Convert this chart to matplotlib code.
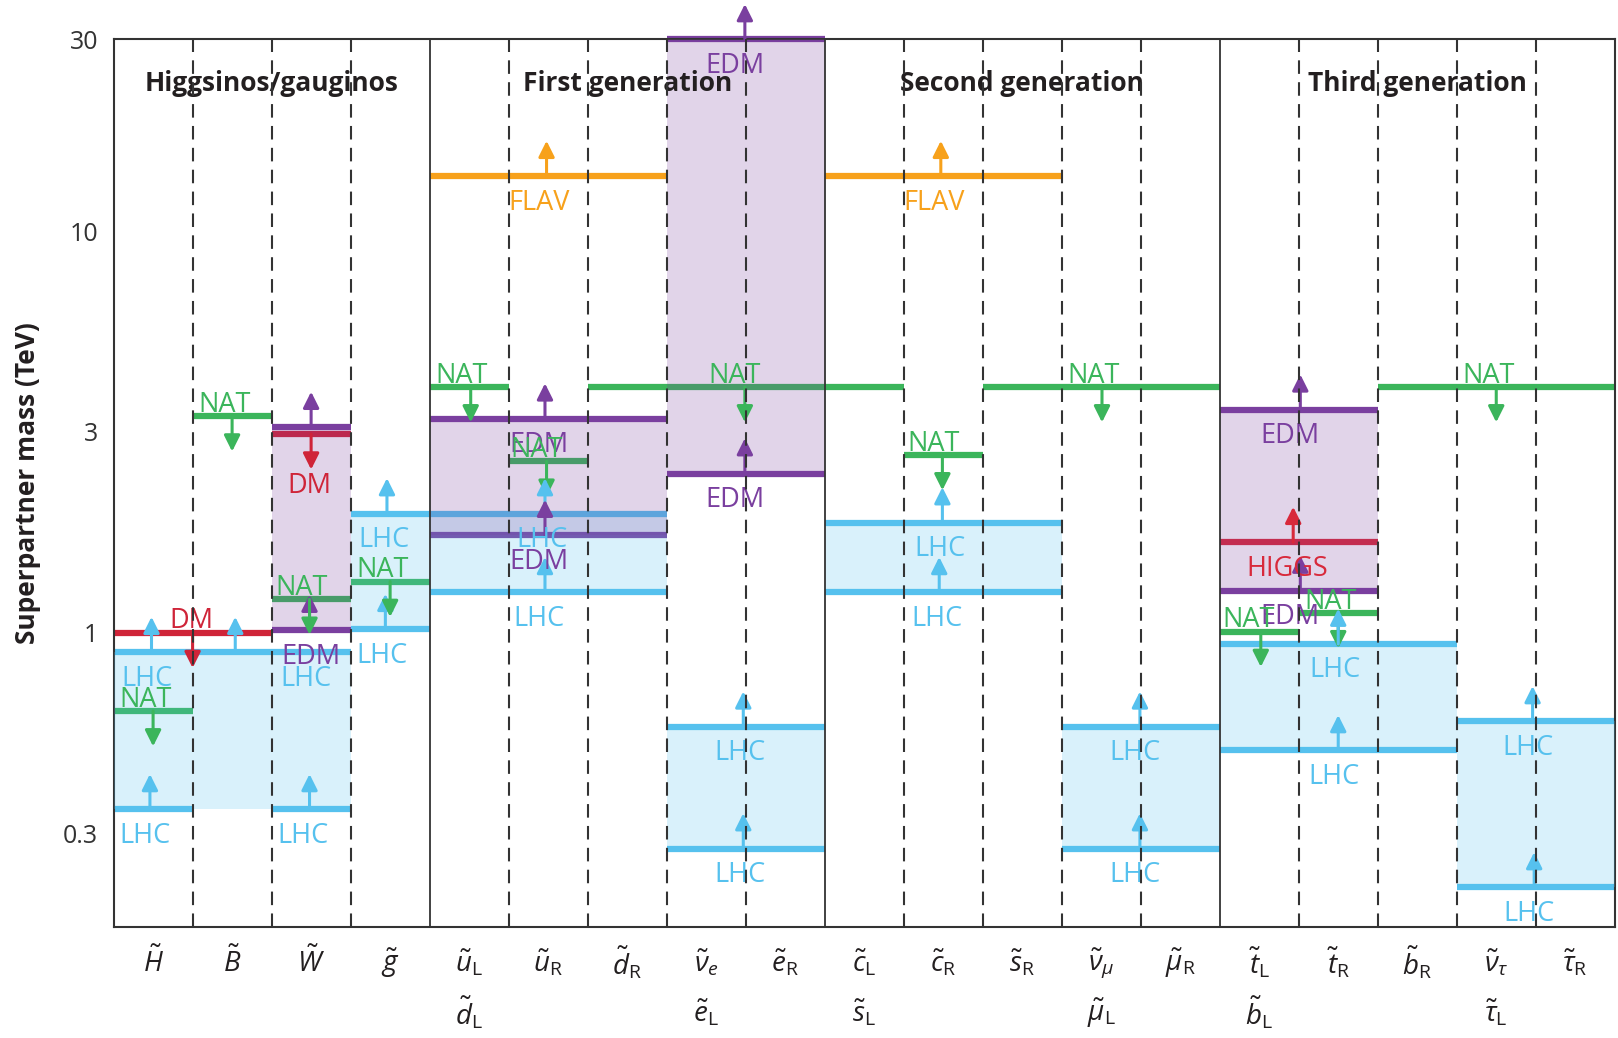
import numpy as np
import matplotlib.pyplot as plt
from matplotlib.ticker import NullLocator
from matplotlib.transforms import blended_transform_factory

plt.rcParams['font.family'] = ['Open Sans', 'DejaVu Sans']
plt.rcParams['mathtext.fontset'] = 'custom'
plt.rcParams['mathtext.rm'] = 'Open Sans'
plt.rcParams['mathtext.it'] = 'Open Sans:italic'
plt.rcParams['mathtext.bf'] = 'Open Sans:bold'

# ---- data -------------------------------------------------------------
sparticles = [r'$\tilde{H}$', r'$\tilde{B}$', r'$\tilde{W}$', r'$\tilde{g}$',
              r'$\tilde{u}_\mathrm{L}$', r'$\tilde{u}_\mathrm{R}$', r'$\tilde{d}_\mathrm{R}$',
              r'$\tilde{\nu}_e$', r'$\tilde{e}_\mathrm{R}$',
              r'$\tilde{c}_\mathrm{L}$', r'$\tilde{c}_\mathrm{R}$', r'$\tilde{s}_\mathrm{R}$',
              r'$\tilde{\nu}_\mu$', r'$\tilde{\mu}_\mathrm{R}$',
              r'$\tilde{t}_\mathrm{L}$', r'$\tilde{t}_\mathrm{R}$', r'$\tilde{b}_\mathrm{R}$',
              r'$\tilde{\nu}_\tau$', r'$\tilde{\tau}_\mathrm{R}$']
sparticles_2 = ['', '', '', '', r'$\tilde{d}_\mathrm{L}$', '', '', r'$\tilde{e}_\mathrm{L}$', '',
                r'$\tilde{s}_\mathrm{L}$', '', '', r'$\tilde{\mu}_\mathrm{L}$', '',
                r'$\tilde{b}_\mathrm{L}$', '', '', r'$\tilde{\tau}_\mathrm{L}$', '']

groups = ['Higgsinos/gauginos', 'First generation', 'Second generation', 'Third generation']
group_edges = [0, 4, 9, 14, 19]

# (constraint, first col, end col, mass TeV, arrow dir, arrow cols, label cols, label side)
gauginos = [
    ('LHC', 0, 1, 0.363, 1, [0.46], [0.40], -1),
    ('NAT', 0, 1, 0.638, -1, [0.50], [0.40], 1),
    ('LHC', 0, 3, 0.894, 1, [0.48, 1.54], [0.42, 2.44], -1),
    ('DM', 0, 2, 1.00, -1, [1.00], [0.98], 1),
    ('NAT', 1, 2, 3.46, -1, [1.50], [1.40], 1),
    ('LHC', 2, 3, 0.363, 1, [2.48], [2.40], -1),
    ('EDM', 2, 3, 1.015, 1, [2.48], [2.50], -1),
    ('NAT', 2, 3, 1.21, -1, [2.48], [2.38], 1),
    ('DM', 2, 3, 3.12, -1, [2.50], [2.48], -1),
    ('EDM', 2, 3, 3.25, 1, [2.50], [], 1),
    ('LHC', 3, 4, 1.98, 1, [3.46], [3.42], -1),
    ('LHC', 3, 4, 1.02, 1, [3.44], [3.40], -1),
    ('NAT', 3, 4, 1.34, -1, [3.50], [3.40], 1),
]
first_gen = [
    ('FLAV', 4, 7, 13.7, 1, [5.48], [5.38], -1),
    ('NAT', 4, 5, 4.09, -1, [4.52], [4.40], 1),
    ('NAT', 6, 10, 4.09, -1, [7.99], [7.86], 1),
    ('EDM', 4, 7, 3.41, 1, [5.46], [5.38], -1),
    ('NAT', 5, 6, 2.67, -1, [5.48], [5.35], 1),
    ('LHC', 4, 7, 1.98, 1, [5.46], [5.42], -1),
    ('EDM', 4, 7, 1.75, 1, [5.46], [5.38], -1),
    ('LHC', 4, 7, 1.26, 1, [5.46], [5.38], -1),
    ('EDM', 7, 9, 30.0, 1, [7.99], [7.86], -1),
    ('EDM', 7, 9, 2.49, 1, [7.99], [7.86], -1),
    ('LHC', 7, 9, 0.583, 1, [7.97], [7.93], -1),
    ('LHC', 7, 9, 0.29, 1, [7.97], [7.93], -1),
]
second_gen = [
    ('FLAV', 9, 12, 13.7, 1, [10.47], [10.38], -1),
    ('NAT', 10, 11, 2.77, -1, [10.49], [10.38], 1),
    ('NAT', 11, 14, 4.09, -1, [12.51], [12.40], 1),
    ('LHC', 9, 12, 1.88, 1, [10.49], [10.46], -1),
    ('LHC', 9, 12, 1.26, 1, [10.45], [10.42], -1),
    ('LHC', 12, 14, 0.583, 1, [12.99], [12.93], -1),
    ('LHC', 12, 14, 0.29, 1, [12.99], [12.93], -1),
]
third_gen = [
    ('EDM', 14, 16, 3.59, 1, [15.02], [14.89], -1),
    ('HIGGS', 14, 16, 1.68, 1, [14.93], [14.85], -1),
    ('EDM', 14, 16, 1.27, 1, [15.02], [14.89], -1),
    ('NAT', 15, 16, 1.12, -1, [15.50], [15.40], 1),
    ('NAT', 14, 15, 1.006, -1, [14.52], [14.36], 1),
    ('LHC', 14, 17, 0.937, 1, [15.50], [15.46], -1),
    ('LHC', 14, 17, 0.509, 1, [15.50], [15.44], -1),
    ('NAT', 16, 19, 4.09, -1, [17.50], [17.40], 1),
    ('LHC', 17, 19, 0.601, 1, [17.96], [17.90], -1),
    ('LHC', 17, 19, 0.232, 1, [17.98], [17.92], -1),
]

# shaded bands: (constraint, first col, end col, low, high)
bands = [
    ('LHC', 0, 3, 0.363, 0.894),
    ('EDM', 2, 3, 1.015, 3.25),
    ('LHC', 3, 4, 1.02, 1.98),
    ('LHC', 4, 7, 1.26, 1.98),
    ('EDM', 4, 7, 1.75, 3.41),
    ('EDM', 7, 9, 2.49, 30.0),
    ('LHC', 7, 9, 0.29, 0.583),
    ('LHC', 9, 12, 1.26, 1.88),
    ('LHC', 12, 14, 0.29, 0.583),
    ('EDM', 14, 16, 1.27, 3.59),
    ('LHC', 14, 17, 0.509, 0.937),
    ('LHC', 17, 19, 0.232, 0.601),
]

colors = {'LHC': '#56C1EE', 'NAT': '#3BB55B', 'DM': '#CF2438',
          'EDM': '#7A3F9F', 'FLAV': '#F7A11B', 'HIGGS': '#D8293B'}

# ---- plot -------------------------------------------------------------
fig = plt.figure(figsize=(16.18, 10.38), dpi=100)
ax = fig.add_axes([0.0702, 0.107, 0.998 - 0.0702, 0.962 - 0.107])
ax.set_yscale('log')
ax.set_xlim(0, 19)
ax.set_ylim(0.185, 30)

arrow_len = 0.088  # decades

for kind, c0, c1, lo, hi in bands:
    ax.fill_between([c0, c1], lo, hi, color=colors[kind], alpha=0.22, lw=0, zorder=3)

for limits in [gauginos, first_gen, second_gen, third_gen]:
    for kind, c0, c1, m, d, arrows, labels, side in limits:
        col = colors[kind]
        ax.plot([c0, c1], [m, m], color=col, lw=4.5, solid_capstyle='butt',
                zorder=2, clip_on=False)
        tip = m * 10 ** (d * arrow_len)
        for a in arrows:
            ax.annotate('', xy=(a, tip), xytext=(a, m),
                        arrowprops=dict(arrowstyle='-|>', color=col, lw=2.2,
                                        mutation_scale=24, shrinkA=0, shrinkB=0),
                        zorder=4, annotation_clip=False)
        # label sits past the arrow tip when both point the same way
        if side == d:
            y0, off = tip, -2
        else:
            y0, off = m, -9
        for lx in labels:
            if side < 0:
                ax.annotate(kind, (lx, y0), xytext=(0, off), textcoords='offset points',
                            ha='center', va='top', color=col, fontsize=19.5, zorder=5)
            else:
                ax.annotate(kind, (lx, y0), xytext=(0, 3), textcoords='offset points',
                            ha='center', va='baseline', color=col, fontsize=19.5, zorder=5)

# column separators
for k in range(1, 19):
    if k in group_edges:
        ax.axvline(k, color='#333333', lw=1.3, zorder=10)
    else:
        ax.axvline(k, color='#333333', lw=1.5, dashes=(6.5, 4), zorder=10)

# group titles
for i, name in enumerate(groups):
    xc = (group_edges[i] + group_edges[i + 1]) / 2
    ax.text(xc, 23.3, name, ha='center', va='center', fontsize=19,
            fontweight='bold', color='#231f20', zorder=6)

# sparticle labels
trans = blended_transform_factory(ax.transData, ax.transAxes)
for i, (s1, s2) in enumerate(zip(sparticles, sparticles_2)):
    ax.text(i + 0.5, -0.041, s1, transform=trans, ha='center', va='center',
            fontsize=20, color='#231f20')
    if s2:
        ax.text(i + 0.5, -0.097, s2, transform=trans, ha='center', va='center',
                fontsize=20, color='#231f20')

ax.set_xticks([])
ax.set_yticks([30, 10, 10 ** 0.5, 1, 10 ** -0.5])
ax.set_yticklabels(['30', '10', '3', '1', '0.3'])
ax.yaxis.set_minor_locator(NullLocator())
ax.tick_params(axis='y', length=0, pad=11, labelsize=18, labelcolor='#333333')
ax.set_ylabel('Superpartner mass (TeV)', fontsize=19, fontweight='bold',
              labelpad=16, color='#231f20')

for sp in ax.spines.values():
    sp.set_color('#333333')
    sp.set_linewidth(1.5)

plt.savefig('out.png', dpi=100)
